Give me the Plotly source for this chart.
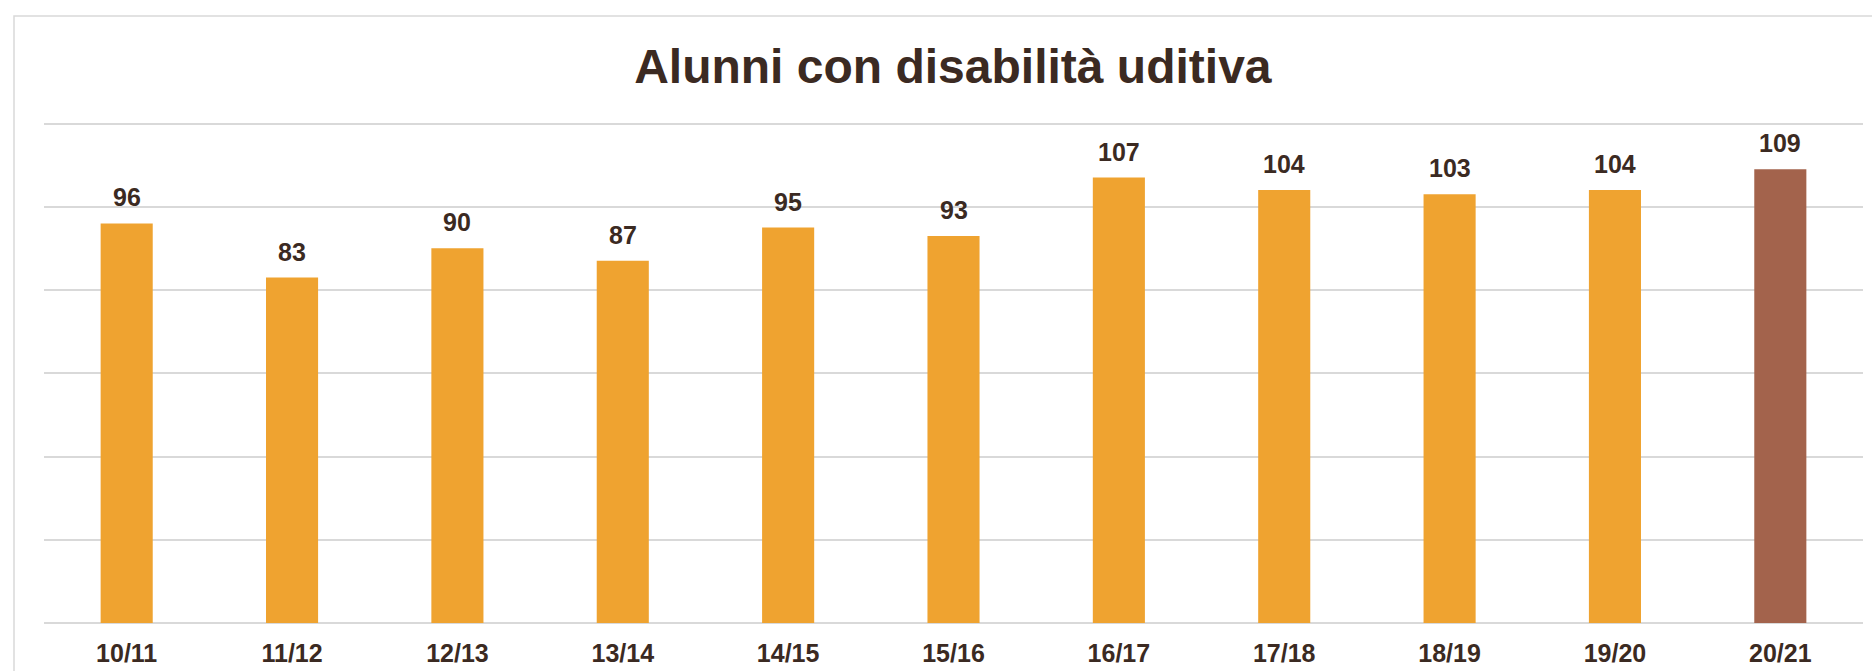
import plotly.graph_objects as go

categories = ["10/11", "11/12", "12/13", "13/14", "14/15", "15/16", "16/17", "17/18", "18/19", "19/20", "20/21"]
values = [96, 83, 90, 87, 95, 93, 107, 104, 103, 104, 109]
bar_colors = ["#EFA330"] * 10 + ["#A3634C"]

TEXT = "#3B2A22"
FONT = "Liberation Sans, Arial, sans-serif"

fig = go.Figure()
fig.add_trace(go.Bar(
    x=categories, y=values,
    marker=dict(color=bar_colors, line=dict(width=0)),
    width=0.315,
    hoverinfo="x+y",
))

annotations = [
    dict(x=c, y=v, xref="x", yref="y", text=str(v), showarrow=False,
         yanchor="bottom", yshift=10,
         font=dict(family=FONT, size=25, color=TEXT, weight="bold"))
    for c, v in zip(categories, values)
]

fig.update_layout(
    width=1872, height=671,
    margin=dict(l=44, r=9, t=121, b=48, autoexpand=False),
    paper_bgcolor="white", plot_bgcolor="white",
    showlegend=False,
    title=dict(text="<b>Alunni con disabilità uditiva</b>", x=0.509, xanchor="center",
               y=1 - 66 / 671, yref="container", yanchor="middle",
               font=dict(family=FONT, size=48, color=TEXT)),
    xaxis=dict(showgrid=False, showline=False, ticks="", ticklabelstandoff=13, automargin=False,
               tickfont=dict(family=FONT, size=25, color=TEXT, weight="bold")),
    yaxis=dict(range=[0, 120.6], tickvals=[0, 20, 40, 60, 80, 100, 120], showgrid=True,
               gridcolor="#D9D9D9", gridwidth=1.5,
               zeroline=True, zerolinecolor="#D9D9D9", zerolinewidth=1.5,
               showticklabels=False, showline=False, ticks="", automargin=False),
    annotations=annotations,
    shapes=[dict(type="rect", xref="paper", yref="paper",
                 x0=(14 - 44) / 1819, x1=1.05, y0=-0.2, y1=(623 - 16) / 502,
                 line=dict(color="#D9D9D9", width=1.5), fillcolor="rgba(0,0,0,0)", layer="below")],
)

fig.write_html("out.html", config={"displayModeBar": False},
               post_script="document.body.style.margin='0';document.body.style.overflow='hidden';")
